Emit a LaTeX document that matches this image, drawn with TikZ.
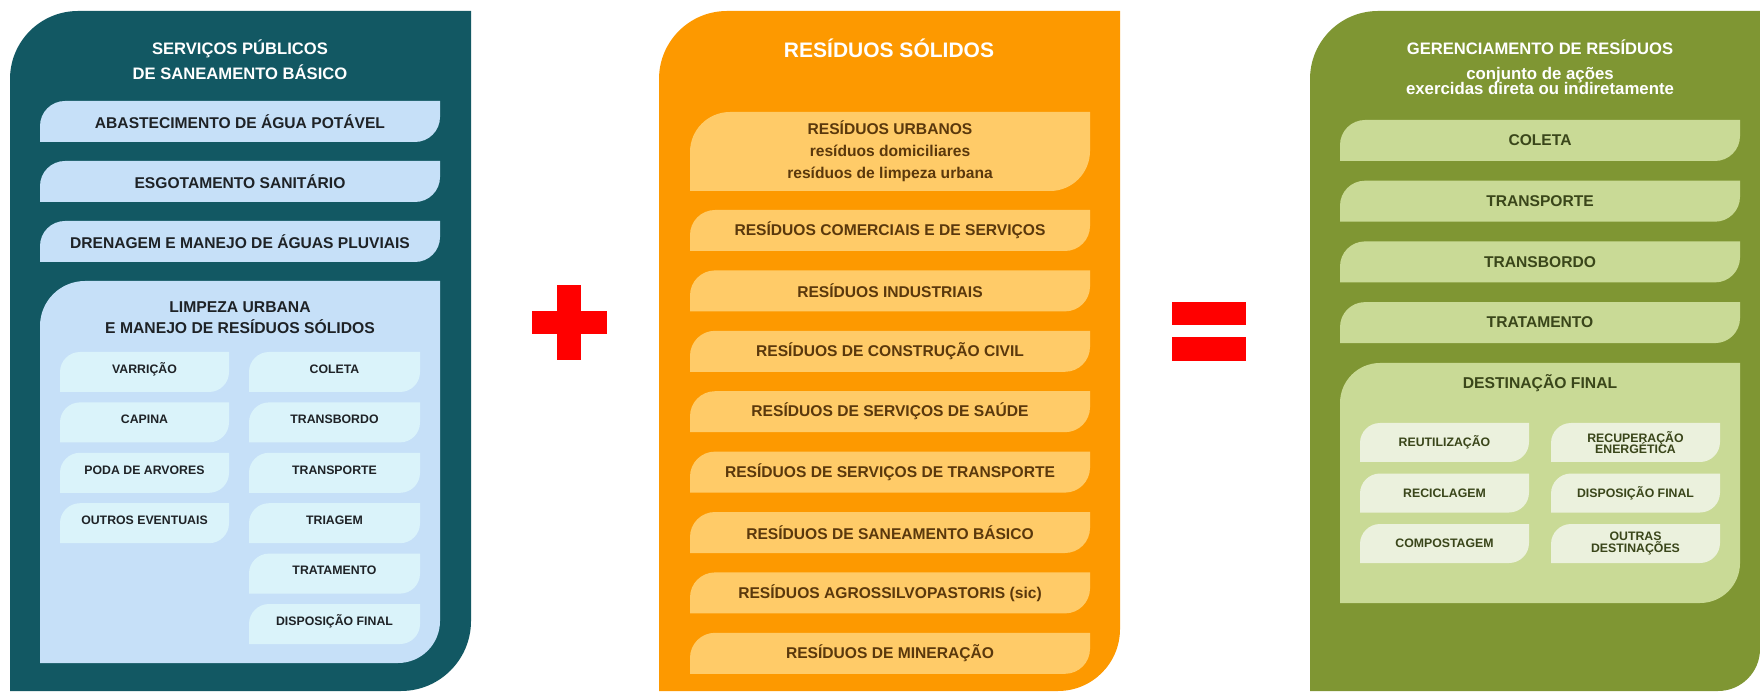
\documentclass[tikz,border=0pt]{standalone}
\usepackage{fontspec}
\setmainfont{Liberation Sans}

% colours of the three panels
\definecolor{sanDark}{RGB}{18,88,99}
\definecolor{sanLight}{RGB}{198,224,248}
\definecolor{sanPale}{RGB}{218,243,250}
\definecolor{sanText}{RGB}{30,34,38}
\definecolor{resOrange}{RGB}{253,153,0}
\definecolor{resLight}{RGB}{255,203,104}
\definecolor{resText}{RGB}{90,56,12}
\definecolor{gerGreen}{RGB}{127,150,51}
\definecolor{gerLight}{RGB}{201,218,150}
\definecolor{gerPale}{RGB}{235,241,221}
\definecolor{gerText}{RGB}{58,70,26}
\definecolor{signRed}{RGB}{255,0,0}

% lines may sit closer than their letters allow
\newcommand{\tightlines}{\setlength{\lineskiplimit}{-10pt}}

% box with rounded top-left and bottom-right corners
% x1, y1, x2, y2, radius top-left, radius bottom-right, colour
\newcommand{\leafshape}[7]{%
  \fill[#7] (#1,#2) -- (#1,#4-#5) arc[start angle=180, end angle=90, radius=#5]
    -- (#3,#4) -- (#3,#2+#6) arc[start angle=0, end angle=-90, radius=#6] -- cycle;}
% name, x1, y1, x2, y2, radius, colour, node style, text
\newcommand{\leafbox}[9]{%
  \leafshape{#2}{#3}{#4}{#5}{#6}{#6}{#7}
  \node[#8] (#1) at ({(#2+#4)/2},{(#3+#5)/2}) {#9};}

\tikzset{
  paneltitle/.style={text=white, align=center, font=\bfseries\fontsize{8.3}{12.5}\selectfont},
  bigtitle/.style={text=white, font=\bfseries\fontsize{10.5}{12}\selectfont},
  subtitle/.style={text=white, align=center, font={\bfseries\fontsize{8.4}{7.6}\selectfont\tightlines}},
  bartext/.style={align=center, inner sep=0pt, font=\bfseries\fontsize{7.8}{11}\selectfont},
  boxtitle/.style={align=center, font=\bfseries\fontsize{7.85}{10.5}\selectfont},
  smalltext/.style={align=center, inner sep=0pt, font={\bfseries\fontsize{6.15}{5.9}\selectfont\tightlines}}
}

\begin{document}
\begin{tikzpicture}[x=0.5pt, y=0.5pt]
    \useasboundingbox (0,0) rectangle (1760,691);

    % Left panel: servicos publicos de saneamento basico
    \leafshape{10}{0}{471}{680}{68}{70}{sanDark}
    \node[paneltitle] (sanTitle) at (240,631.5) {SERVIÇOS PÚBLICOS\\DE SANEAMENTO BÁSICO};
    \leafbox{agua}{40}{549}{440}{590}{25}{sanLight}{bartext, text=sanText}{ABASTECIMENTO DE ÁGUA POTÁVEL}
    \leafbox{esgoto}{40}{489}{440}{530}{25}{sanLight}{bartext, text=sanText}{ESGOTAMENTO SANITÁRIO}
    \leafbox{drenagem}{40}{429}{440}{470}{25}{sanLight}{bartext, text=sanText}{DRENAGEM E MANEJO DE ÁGUAS PLUVIAIS}

    % Limpeza urbana and its activities
    \leafshape{40}{28}{440}{410}{45}{42}{sanLight}
    \node[boxtitle, text=sanText] (limpeza) at (240,373) {LIMPEZA URBANA\\E MANEJO DE RESÍDUOS SÓLIDOS};
    \foreach \name/\txt [count=\i from 0] in {varricao/VARRIÇÃO, capina/CAPINA, poda/PODA DE ARVORES, outros/OUTROS EVENTUAIS}
    {
        \leafbox{\name}{60}{299-50.4*\i}{229}{339-50.4*\i}{20}{sanPale}{smalltext, text=sanText, yshift=1.5pt}{\txt}
    }
    \foreach \name/\txt [count=\i from 0] in {lcoleta/COLETA, ltransbordo/TRANSBORDO, ltransporte/TRANSPORTE, ltriagem/TRIAGEM, ltratamento/TRATAMENTO, ldisposicao/DISPOSIÇÃO FINAL}
    {
        \leafbox{\name}{249}{299-50.4*\i}{420}{339-50.4*\i}{20}{sanPale}{smalltext, text=sanText, yshift=1.5pt}{\txt}
    }

    % Plus sign
    \fill[signRed] (532,357) rectangle (607,380);
    \fill[signRed] (557,331) rectangle (581,406);

    % Middle panel: residuos solidos
    \leafshape{659}{0}{1120}{680}{68}{62}{resOrange}
    \node[bigtitle] (resTitle) at (889,643) {RESÍDUOS SÓLIDOS};
    \leafbox{urbanos}{690}{500}{1090}{579}{40}{resLight}{bartext, text=resText}{RESÍDUOS URBANOS\\resíduos domiciliares\\resíduos de limpeza urbana}
    \foreach \name/\txt [count=\i from 0] in {comerciais/RESÍDUOS COMERCIAIS E DE SERVIÇOS, industriais/RESÍDUOS INDUSTRIAIS, construcao/RESÍDUOS DE CONSTRUÇÃO CIVIL, saude/RESÍDUOS DE SERVIÇOS DE SAÚDE, rtransporte/RESÍDUOS DE SERVIÇOS DE TRANSPORTE, saneamento/RESÍDUOS DE SANEAMENTO BÁSICO, agro/RESÍDUOS AGROSSILVOPASTORIS (sic), mineracao/RESÍDUOS DE MINERAÇÃO}
    {
        \leafbox{\name}{690}{440-60.4*\i}{1090}{481-60.4*\i}{25}{resLight}{bartext, text=resText}{\txt}
    }

    % Equals sign
    \fill[signRed] (1172,366) rectangle (1246,389);
    \fill[signRed] (1172,330) rectangle (1246,354);

    % Right panel: gerenciamento de residuos
    \leafshape{1310}{0}{1760}{680}{68}{42}{gerGreen}
    \node[paneltitle] (gerTitle) at (1540,644) {GERENCIAMENTO DE RESÍDUOS};
    \node[subtitle] (gerSub) at (1540,610) {conjunto de ações\\exercidas direta ou indiretamente};
    \foreach \name/\txt [count=\i from 0] in {gcoleta/COLETA, gtransporte/TRANSPORTE, gtransbordo/TRANSBORDO, gtratamento/TRATAMENTO}
    {
        \leafbox{\name}{1340}{530-60.7*\i}{1740}{571-60.7*\i}{25}{gerLight}{bartext, text=gerText}{\txt}
    }

    % Destinacao final and its options
    \leafshape{1340}{88}{1740}{328}{40}{40}{gerLight}
    \node[boxtitle, text=gerText] (destino) at (1540,308) {DESTINAÇÃO FINAL};
    \foreach \name/\txt [count=\i from 0] in {reutilizacao/REUTILIZAÇÃO, reciclagem/RECICLAGEM, compostagem/COMPOSTAGEM}
    {
        \leafbox{\name}{1360}{229-50.5*\i}{1529}{268-50.5*\i}{20}{gerPale}{smalltext, text=gerText}{\txt}
    }
    \foreach \name/\txt [count=\i from 0] in {recuperacao/{RECUPERAÇÃO\\ENERGÉTICA}, gdisposicao/DISPOSIÇÃO FINAL, outras/{OUTRAS\\DESTINAÇÕES}}
    {
        \leafbox{\name}{1551}{229-50.5*\i}{1720}{268-50.5*\i}{20}{gerPale}{smalltext, text=gerText}{\txt}
    }

\end{tikzpicture}
\end{document}
